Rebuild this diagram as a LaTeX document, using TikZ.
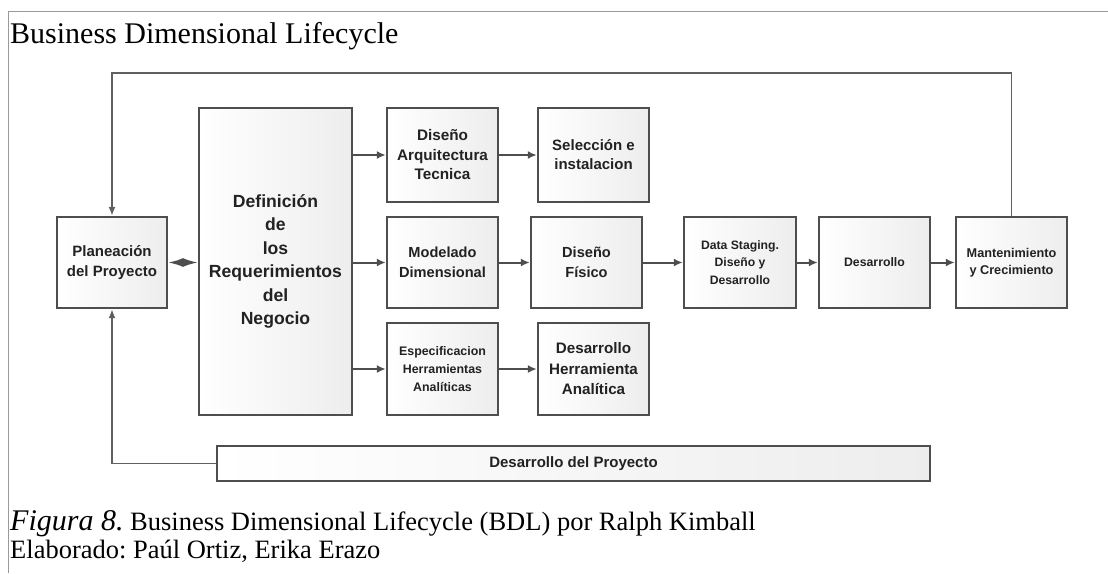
\documentclass[tikz,border=0pt]{standalone}
\usepackage{fontspec}
\setmainfont{Liberation Serif}
\newfontfamily\boxfont{Liberation Sans}
\usetikzlibrary{arrows.meta}
\definecolor{boxline}{HTML}{4E4E4E}
\definecolor{txt}{HTML}{222222}
\definecolor{frame}{HTML}{9A9A9A}
\frenchspacing
\tikzset{
  box/.style={draw=boxline, line width=2.4pt, left color=white, right color=black!7,
    inner sep=0pt, align=center, text=txt},
  bf/.style 2 args={font=\boxfont\bfseries\fontsize{#1}{#2}\selectfont},
  conn/.style={draw=boxline, line width=2pt, -{Latex[length=9pt,width=8pt]}},
  loop/.style={draw=boxline!90, line width=1.4pt, -{Latex[length=9pt,width=7pt]}},
}
\begin{document}
\begin{tikzpicture}[x=1pt,y=-1pt]
\useasboundingbox (0,0) rectangle (1108,573);
% frame
\draw[frame, line width=1pt] (1108,11) -- (8,11) -- (8,573);
% title
\node[anchor=base west, inner sep=0pt, font=\fontsize{30}{36}\selectfont] (title) at (10,43) {Business Dimensional Lifecycle};
% boxes
\node[box, bf={15}{20}, minimum width=110pt, minimum height=91pt] (plan) at (112,262.5) {Planeación\\del Proyecto};
\node[box, bf={17.6}{23.5}, minimum width=153pt, minimum height=307pt] (def) at (275.5,261.5) {Definición\\de\\los\\Requerimientos\\del\\Negocio};
\node[box, bf={15.3}{19.5}, minimum width=111pt, minimum height=94pt] (arq) at (442.5,155) {Diseño\\Arquitectura\\Tecnica};
\node[box, bf={15}{19}, minimum width=111pt, minimum height=94pt] (sel) at (593.5,155) {Selección e\\instalacion};
\node[box, bf={14.6}{20}, minimum width=111pt, minimum height=91pt] (mod) at (442.5,262.5) {Modelado\\Dimensional};
\node[box, bf={14.6}{20}, minimum width=111pt, minimum height=91pt] (fis) at (586.5,262.5) {Diseño\\Físico};
\node[box, bf={12.4}{18}, minimum width=111pt, minimum height=92pt] (esp) at (442.5,369) {Especificacion\\Herramientas\\Analíticas};
\node[box, bf={15.2}{20.5}, minimum width=111pt, minimum height=92pt] (dha) at (593.5,369) {Desarrollo\\Herramienta\\Analítica};
\node[box, bf={12.2}{17.5}, minimum width=112pt, minimum height=91pt] (ds) at (740,262.5) {Data Staging.\\Diseño y\\Desarrollo};
\node[box, bf={12.3}{17}, minimum width=111pt, minimum height=91pt] (des) at (874.5,262.5) {Desarrollo};
\node[box, bf={12.7}{17.3}, minimum width=111pt, minimum height=91pt] (man) at (1011.5,262.5) {Mantenimiento\\y Crecimiento};
\node[box, bf={15}{18}, minimum width=713pt, minimum height=35pt] (proy) at (573.5,463.5) {Desarrollo del Proyecto};
% connectors
\draw[conn] (def.east |- arq.west) -- (arq.west);
\draw[conn] (def.east |- mod.west) -- (mod.west);
\draw[conn] (def.east |- esp.west) -- (esp.west);
\draw[conn] (arq) -- (sel);
\draw[conn] (mod) -- (fis);
\draw[conn] (esp) -- (dha);
\draw[conn] (fis) -- (ds);
\draw[conn] (ds) -- (des);
\draw[conn] (des) -- (man);
\draw[draw=boxline, line width=2pt, {Latex[length=15pt,width=9pt]}-{Latex[length=15pt,width=9pt]}] (plan.east) -- (plan.east -| def.west);
\coordinate (tr) at (man.north |- 0,73);
\coordinate (tl) at (plan.north |- 0,73);
\draw[loop] (man.north) -- (tr) -- (tl) -- (plan.north);
\coordinate (bl) at (plan.south |- proy.west);
\draw[loop] (proy.west) -- (bl) -- (plan.south);
% caption
\node[anchor=base west, inner sep=0pt, font=\fontsize{26.5}{30}\selectfont] (cap) at (10,530) {{\fontsize{30}{34}\selectfont\itshape Figura 8.} Business Dimensional Lifecycle (BDL) por Ralph Kimball};
\node[anchor=base west, inner sep=0pt, font=\fontsize{26.5}{30}\selectfont] (elab) at (10,558) {Elaborado: Paúl Ortiz, Erika Erazo};
\end{tikzpicture}
\end{document}
